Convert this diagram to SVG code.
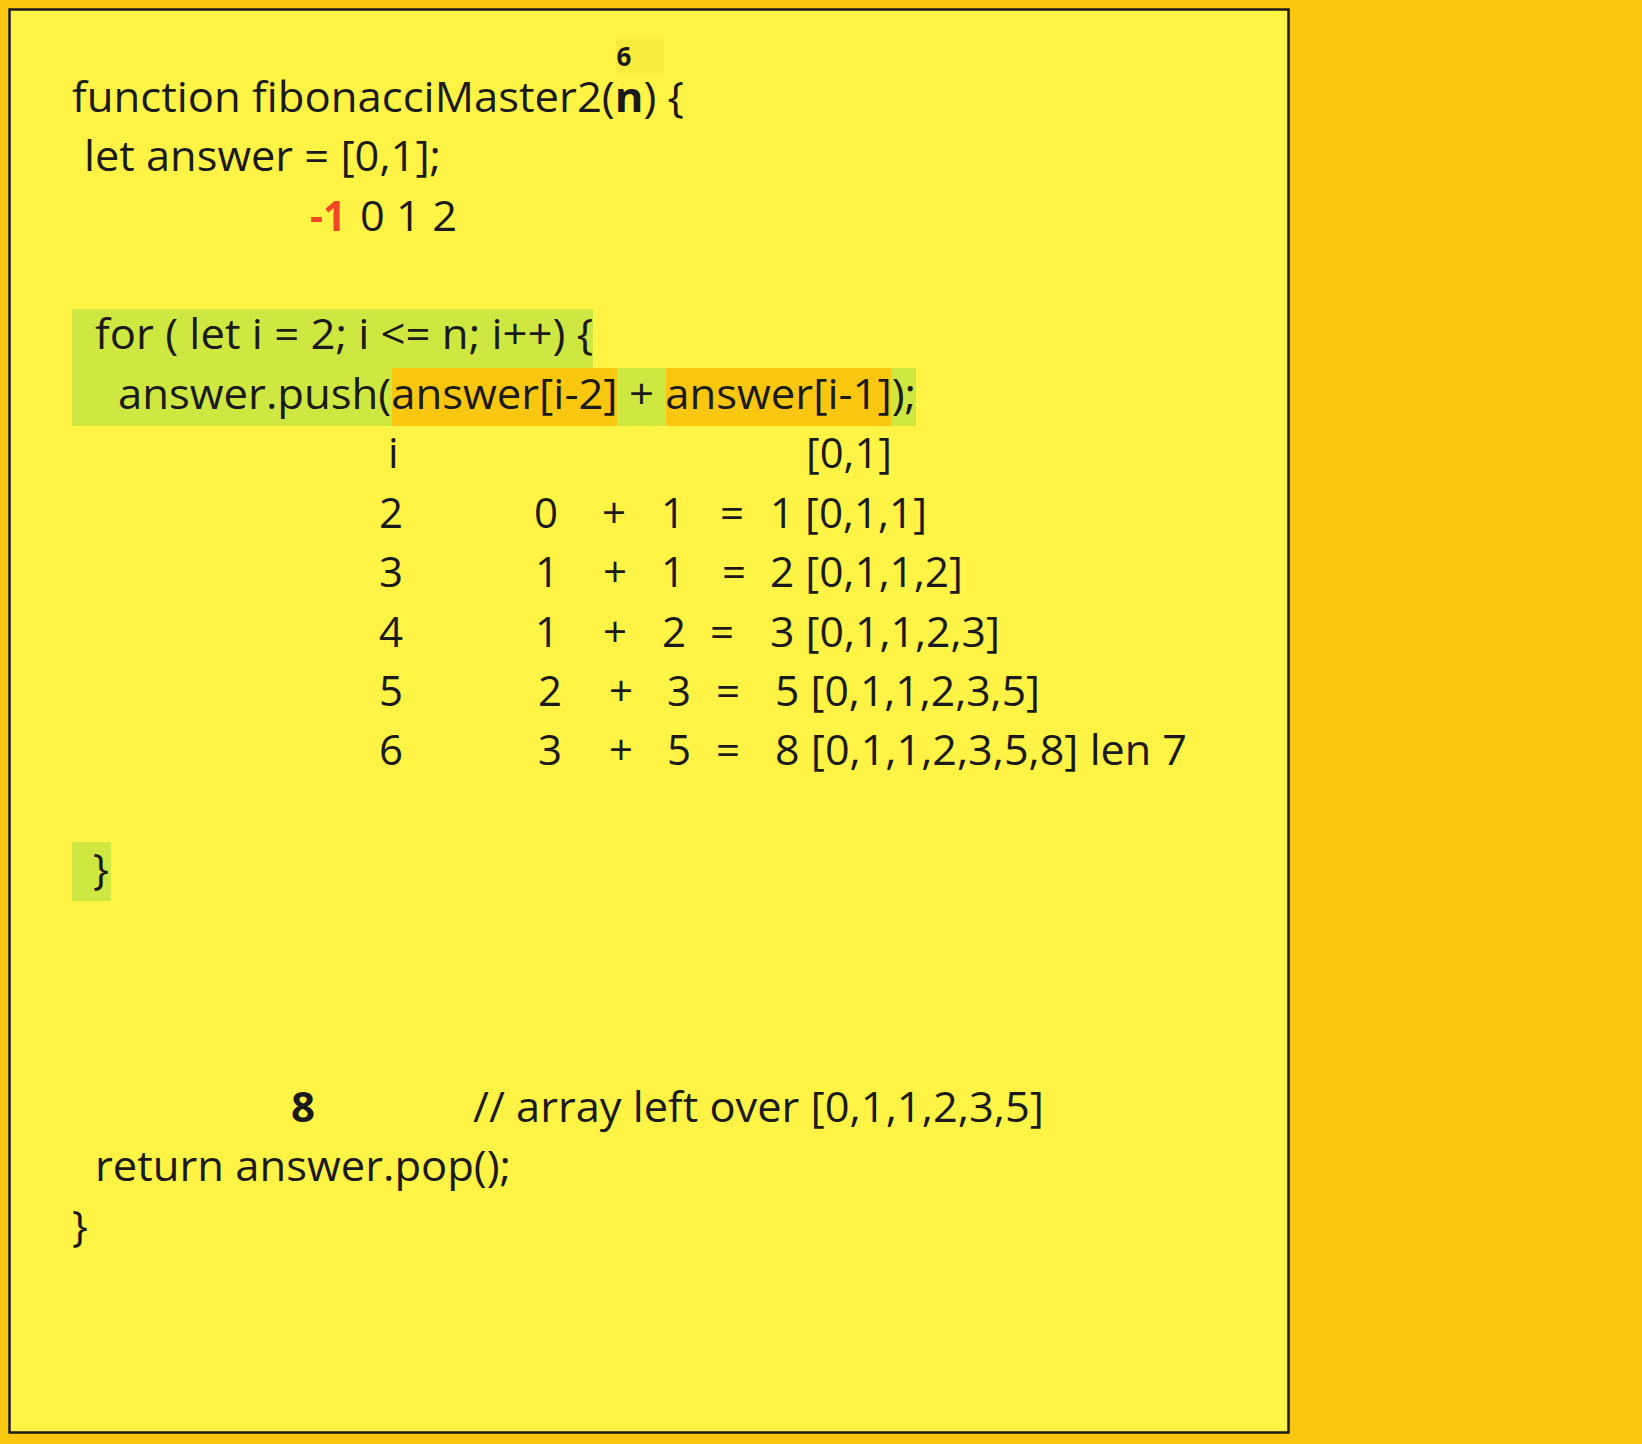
<svg xmlns="http://www.w3.org/2000/svg" width="1642" height="1444" viewBox="0 0 1642 1444">
<style>
.t{font-family:"Open Sans","Noto Sans",sans-serif;font-size:42px;fill:#1a1a1a}
.b{font-weight:700}
.sm{font-size:26px}
.red{fill:#F24726}
</style>
<rect x="0" y="0" width="1642" height="1444" fill="#FAC710"/>
<g id="frame">
<rect x="9.5" y="9.5" width="1279" height="1423" fill="#FFF445" stroke="#1a1a1a" stroke-width="2.5"/>
</g>
<g id="highlights">
<rect x="616" y="39" width="48" height="34" fill="#F8EC3C"/>
<rect x="72" y="309" width="521" height="59" fill="#CEE741"/>
<rect x="72" y="368" width="844" height="58" fill="#CEE741"/>
<rect x="392" y="368" width="225" height="58" fill="#FAC710"/>
<rect x="666" y="368" width="225" height="58" fill="#FAC710"/>
<rect x="72" y="842" width="39" height="59" fill="#CEE741"/>
</g>
<g id="code">
<text class="t b sm" x="624" y="66" text-anchor="middle">6</text>
<text class="t" x="72" y="112" textLength="612" lengthAdjust="spacingAndGlyphs">function fibonacciMaster2(<tspan class="b">n</tspan>) {</text>
<text class="t" x="84" y="171" textLength="357" lengthAdjust="spacingAndGlyphs">let answer = [0,1];</text>
<text class="t b red" x="310" y="231" textLength="36" lengthAdjust="spacingAndGlyphs">-1</text>
<text class="t" x="360" y="231" textLength="97" lengthAdjust="spacingAndGlyphs">0 1 2</text>
<text class="t" x="95" y="349" textLength="498" lengthAdjust="spacingAndGlyphs">for ( let i = 2; i &lt;= n; i++) {</text>
<text class="t" x="118" y="409" textLength="798" lengthAdjust="spacingAndGlyphs">answer.push(answer[i-2] + answer[i-1]);</text>
</g>
<g id="trace">
<text class="t" x="388" y="468">i</text>
<text class="t" x="806" y="468" textLength="86" lengthAdjust="spacingAndGlyphs">[0,1]</text>
<text class="t" y="528"><tspan x="379">2</tspan><tspan x="534">0</tspan><tspan x="602">+</tspan><tspan x="661">1</tspan><tspan x="720">=</tspan></text>
<text class="t" x="770" y="528" textLength="157" lengthAdjust="spacingAndGlyphs">1 [0,1,1]</text>
<text class="t" y="587"><tspan x="379">3</tspan><tspan x="535">1</tspan><tspan x="603">+</tspan><tspan x="661">1</tspan><tspan x="722">=</tspan></text>
<text class="t" x="770" y="587" textLength="193" lengthAdjust="spacingAndGlyphs">2 [0,1,1,2]</text>
<text class="t" y="647"><tspan x="379">4</tspan><tspan x="535">1</tspan><tspan x="603">+</tspan><tspan x="662">2</tspan><tspan x="710">=</tspan></text>
<text class="t" x="770" y="647" textLength="230" lengthAdjust="spacingAndGlyphs">3 [0,1,1,2,3]</text>
<text class="t" y="706"><tspan x="379">5</tspan><tspan x="538">2</tspan><tspan x="609">+</tspan><tspan x="667">3</tspan><tspan x="716">=</tspan></text>
<text class="t" x="775" y="706" textLength="265" lengthAdjust="spacingAndGlyphs">5 [0,1,1,2,3,5]</text>
<text class="t" y="765"><tspan x="379">6</tspan><tspan x="538">3</tspan><tspan x="609">+</tspan><tspan x="667">5</tspan><tspan x="716">=</tspan></text>
<text class="t" x="775" y="765" textLength="412" lengthAdjust="spacingAndGlyphs">8 [0,1,1,2,3,5,8] len 7</text>
</g>
<g id="tail">
<text class="t" x="93" y="884">}</text>
<text class="t b" x="291" y="1122">8</text>
<text class="t" x="473" y="1122" textLength="571" lengthAdjust="spacingAndGlyphs">// array left over [0,1,1,2,3,5]</text>
<text class="t" x="95" y="1181" textLength="416" lengthAdjust="spacingAndGlyphs">return answer.pop();</text>
<text class="t" x="72" y="1241">}</text>
</g>
</svg>
